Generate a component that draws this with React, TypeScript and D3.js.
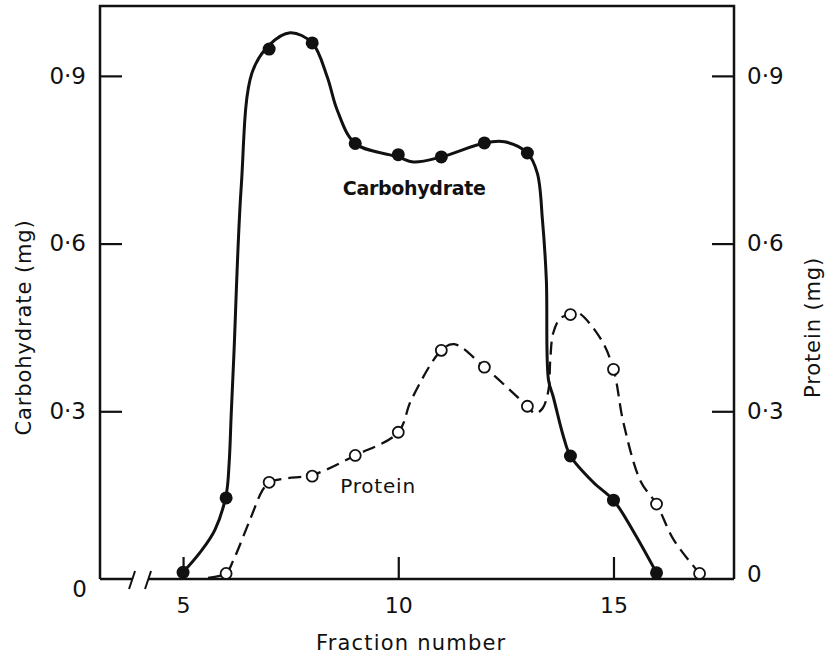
import React, { useEffect, useRef } from "react";
import * as d3 from "d3";

// marker data: fraction number vs mg
const carbFractions = [5, 6, 7, 8, 9, 10, 11, 12, 13, 14, 15, 16];
const carbohydrate = [0.012, 0.145, 0.948, 0.959, 0.779, 0.759, 0.755, 0.78, 0.762, 0.22, 0.141, 0.011];
const proteinFractions = [6, 7, 8, 9, 10, 11, 12, 13, 14, 15, 16, 17];
const protein = [0.01, 0.173, 0.184, 0.221, 0.2625, 0.409, 0.379, 0.309, 0.473, 0.375, 0.134, 0.01];

// hand-drawn curves [fraction, mg]
const carbCurve = [
  [5.0, 0.012], [5.4, 0.048], [5.74, 0.088], [6.0, 0.15], [6.07, 0.207], [6.12, 0.297],
  [6.18, 0.4], [6.35, 0.7], [6.6, 0.905], [7.0, 0.955], [7.49, 0.977],
  [8.0, 0.959], [8.35, 0.898], [8.58, 0.839], [9.0, 0.779], [10.0, 0.755], [10.35, 0.746],
  [11.0, 0.755], [12.0, 0.78], [12.47, 0.782], [13.0, 0.762], [13.23, 0.726], [13.35, 0.642],
  [13.44, 0.535], [13.49, 0.356], [13.6, 0.326], [13.84, 0.254], [14.0, 0.22], [14.53, 0.173],
  [15.0, 0.141], [15.47, 0.084], [16.0, 0.011],
];
const proteinCurve = [
  [5.58, 0.002], [6.0, 0.01], [6.16, 0.032], [6.56, 0.107], [6.84, 0.158], [7.0, 0.173],
  [7.4, 0.18], [8.0, 0.186], [9.0, 0.221], [10.0, 0.2625], [10.3, 0.32],
  [11.0, 0.409], [11.3, 0.42], [12.0, 0.379], [13.0, 0.309], [13.18, 0.296], [13.35, 0.305],
  [13.49, 0.338], [13.53, 0.39], [13.6, 0.44], [13.77, 0.467], [14.0, 0.473], [14.16, 0.477],
  [14.7, 0.43], [15.0, 0.375], [15.23, 0.28], [15.63, 0.175], [16.0, 0.134], [16.4, 0.07],
  [17.0, 0.01],
];

const yTicks = [0, 0.3, 0.6, 0.9];
const xTicks = [5, 10, 15];
const axisBreak = 4;

const FONT = "'DejaVu Sans', sans-serif";
const INK = "#111";

function fmt(d: number) {
  return d === 0 ? "0" : d.toFixed(1).replace(".", "\u00b7");
}

export default function App() {
  const svgRef = useRef<SVGSVGElement>(null);

  useEffect(() => {
    const svg = d3.select(svgRef.current);
    svg.selectAll("*").remove();

    const x = d3.scaleLinear().domain([3.07, 17.8]).range([100, 734]);
    const y = d3.scaleLinear().domain([0, 1.025]).range([579, 6]);
    const [x0, x1] = x.range();
    const [y0, y1] = y.range();

    // frame
    const frame = svg.append("g").attr("stroke", INK).attr("stroke-width", 2.5).attr("fill", "none");
    frame.append("path").attr("d", `M${x0},${y0}V${y1}H${x1}V${y0}`);
    const bx = x(axisBreak);
    frame.append("line").attr("x1", x0).attr("x2", bx - 8).attr("y1", y0).attr("y2", y0);
    frame.append("line").attr("x1", bx + 8).attr("x2", x1).attr("y1", y0).attr("y2", y0);
    [-8, 8].forEach((o) => {
      frame.append("line")
        .attr("stroke-width", 2)
        .attr("x1", bx + o - 3).attr("y1", y0 + 10)
        .attr("x2", bx + o + 3).attr("y2", y0 - 8);
    });

    const styleAxis = (g: any, size: number) => {
      g.attr("font-family", FONT).attr("font-size", size);
      g.select(".domain").remove();
      g.selectAll(".tick line").attr("stroke", INK).attr("stroke-width", 2.2);
      g.selectAll("text").attr("fill", INK);
    };

    const left = svg.append("g")
      .attr("transform", `translate(${x0},0)`)
      .call(d3.axisLeft(y).tickValues(yTicks).tickSize(-22).tickPadding(14).tickFormat(fmt as any));
    styleAxis(left, 23);
    left.selectAll(".tick").filter((d: any) => d === 0).select("line").remove();
    left.selectAll(".tick").filter((d: any) => d === 0).select("text").attr("dy", "0.75em").attr("x", -13);

    const right = svg.append("g")
      .attr("transform", `translate(${x1},0)`)
      .call(d3.axisRight(y).tickValues(yTicks).tickSize(-22).tickPadding(13).tickFormat(fmt as any));
    styleAxis(right, 23);
    right.selectAll(".tick").filter((d: any) => d === 0).select("line").remove();
    right.selectAll(".tick").filter((d: any) => d === 0).select("text").attr("dy", "0.1em");

    const bottom = svg.append("g")
      .attr("transform", `translate(0,${y0})`)
      .call(d3.axisBottom(x).tickValues(xTicks).tickSize(-22).tickPadding(18));
    styleAxis(bottom, 22);

    // titles
    svg.append("text")
      .attr("transform", `translate(24,${(y(0.3) + y(0.6)) / 2}) rotate(-90)`)
      .attr("text-anchor", "middle").attr("dominant-baseline", "central")
      .attr("font-family", FONT).attr("font-size", 21).attr("letter-spacing", 0.9)
      .attr("fill", INK).text("Carbohydrate (mg)");
    svg.append("text")
      .attr("transform", `translate(813,${(y(0.3) + y(0.6)) / 2}) rotate(-90)`)
      .attr("text-anchor", "middle").attr("dominant-baseline", "central")
      .attr("font-family", FONT).attr("font-size", 21).attr("letter-spacing", 0.9)
      .attr("fill", INK).text("Protein (mg)");
    svg.append("text")
      .attr("x", x(10.3)).attr("y", 650)
      .attr("text-anchor", "middle")
      .attr("font-family", FONT).attr("font-size", 21).attr("letter-spacing", 1.2)
      .attr("fill", INK).text("Fraction number");

    const line = d3.line<number[]>()
      .x((d) => x(d[0]))
      .y((d) => y(d[1]))
      .curve(d3.curveCatmullRom.alpha(0.5));

    svg.append("path")
      .attr("d", line(proteinCurve))
      .attr("fill", "none").attr("stroke", INK).attr("stroke-width", 2.3)
      .attr("stroke-dasharray", "13 7");
    svg.append("path")
      .attr("d", line(carbCurve))
      .attr("fill", "none").attr("stroke", INK).attr("stroke-width", 3);

    svg.append("g")
      .selectAll("circle")
      .data(proteinFractions)
      .join("circle")
      .attr("cx", (d) => x(d))
      .attr("cy", (d, i) => y(protein[i]))
      .attr("r", 5.5)
      .attr("fill", "#fff").attr("stroke", INK).attr("stroke-width", 1.8);
    svg.append("g")
      .selectAll("circle")
      .data(carbFractions)
      .join("circle")
      .attr("cx", (d) => x(d))
      .attr("cy", (d, i) => y(carbohydrate[i]))
      .attr("r", 6.5)
      .attr("fill", INK);

    // in-plot labels
    svg.append("text")
      .attr("x", x(10.37)).attr("y", y(0.687))
      .attr("text-anchor", "middle")
      .attr("font-family", FONT).attr("font-size", 19).attr("font-weight", "bold")
      .attr("letter-spacing", -0.3)
      .attr("fill", INK).text("Carbohydrate");
    svg.append("text")
      .attr("x", x(8.65)).attr("y", y(0.154))
      .attr("font-family", FONT).attr("font-size", 20).attr("letter-spacing", 0.8)
      .attr("fill", INK).text("Protein");
  }, []);

  return (
    <svg
      ref={svgRef}
      width={826}
      height={656}
      style={{ position: "absolute", left: 0, top: 0, background: "#fff", display: "block" }}
    />
  );
}
